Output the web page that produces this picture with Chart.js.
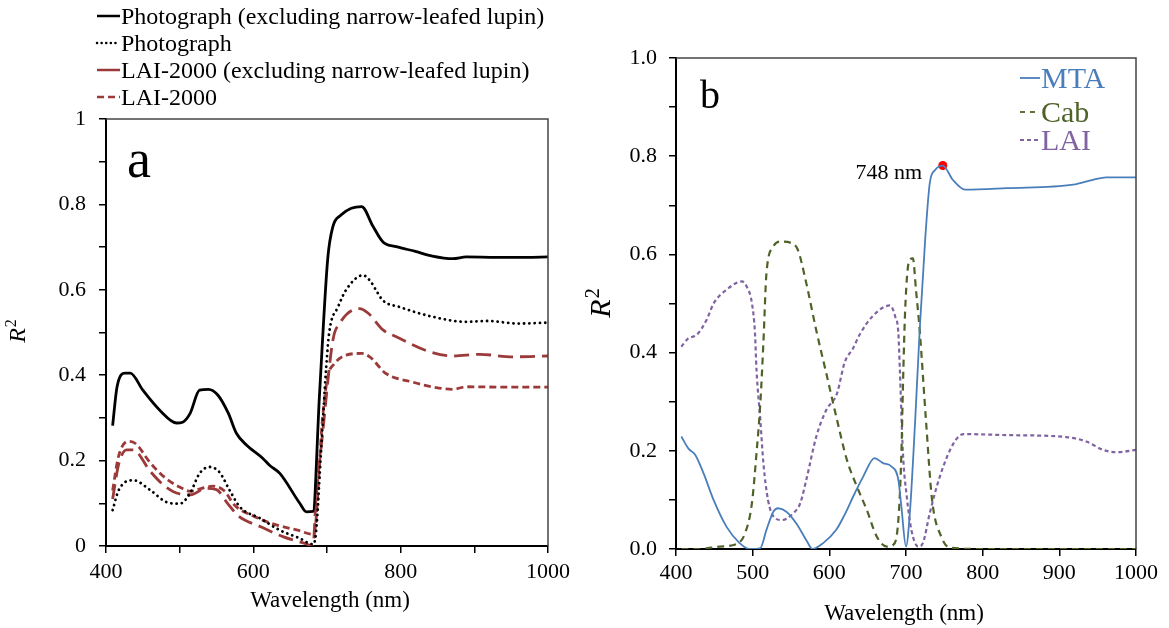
<!DOCTYPE html>
<html><head><meta charset="utf-8">
<script src="https://cdn.jsdelivr.net/npm/chart.js@4.4.1/dist/chart.umd.min.js"></script>
<style>
html,body{margin:0;padding:0;background:#fff;overflow:hidden}
#wrap{position:relative;width:1169px;height:628px;background:#fff}
canvas{position:absolute;top:0}
#ca{left:0}
#cb{left:580px}
</style></head><body>
<div id="wrap"><canvas id="ca" width="580" height="628"></canvas><canvas id="cb" width="589" height="628"></canvas></div>
<script>
// ---------- Panel a data ----------
const photoExclNm = [409,415,426,433,450,473,496,504,514,527,539,552,566,577,591,613,622,636,663,672,681,690,701,708,719,733,747,762,776,794,820,843,871,889,930,970,1000];
const photoExclR2 = [.282,.373,.405,.405,.365,.318,.288,.29,.31,.365,.367,.353,.311,.264,.236,.205,.189,.17,.10,.08,.081,.36,.673,.748,.775,.791,.795,.75,.712,.701,.69,.679,.673,.677,.676,.676,.677];

const photoNm = [409,417,437,460,482,500,514,527,541,554,568,582,609,636,663,681,685,692,699,703,715,726,749,758,776,798,843,889,916,961,1000];
const photoR2 = [.084,.13,.154,.131,.103,.099,.123,.17,.185,.173,.13,.091,.065,.037,.018,.004,.03,.224,.42,.5,.56,.6,.634,.622,.575,.56,.537,.525,.527,.521,.523];

const laiExclNm = [409,417,428,437,460,480,500,515,535,550,565,580,610,640,670,681,685,694,708,717,744,756,776,794,839,871,907,952,1000];
const laiExclR2 = [.11,.19,.225,.225,.175,.14,.122,.12,.135,.132,.10,.07,.045,.022,.006,.0,.107,.263,.482,.521,.556,.545,.506,.49,.455,.445,.449,.443,.445];

const laiNm = [409,417,430,440,460,480,500,515,530,545,560,575,600,630,660,682,694,701,710,726,747,758,780,816,848,871,889,940,1000];
const laiR2 = [.13,.21,.245,.24,.195,.16,.138,.128,.135,.14,.13,.095,.07,.05,.037,.027,.30,.396,.427,.447,.451,.443,.404,.384,.371,.367,.373,.372,.372];

const seriesNamesA = ['Photograph (excluding narrow-leafed lupin)','Photograph','LAI-2000 (excluding narrow-leafed lupin)','LAI-2000'];
const xTicksLabeledA = [400,600,800,1000];
const yTickLabelsA = ['0','0.2','0.4','0.6','0.8','1'];

// ---------- Panel b data ----------
const mtaNm = [407,416,425,436,449,466,483,496,510,518,527,533,544,557,570,578,592,609,620,633,644,659,670,681,690,694,700,705,712,718,725,731,738,748,761,777,831,918,944,961,1000];
const mtaR2 = [.229,.205,.192,.154,.10,.045,.012,0,.002,.039,.076,.083,.076,.052,.018,0,.012,.039,.07,.113,.147,.185,.175,.168,.141,.086,.005,.073,.263,.45,.63,.745,.772,.781,.752,.732,.735,.742,.752,.757,.757];

const cabNm = [407,430,457,479,490,499,505,510,514,518,527,536,549,559,570,583,596,610,623,636,649,662,675,683,690,694,696,699,704,709,713,718,726,734,746,757,800,900,1000];
const cabR2 = [0,0,.005,.01,.032,.093,.195,.297,.42,.562,.616,.626,.624,.609,.541,.445,.358,.263,.181,.127,.079,.025,.005,.008,.059,.195,.331,.49,.586,.592,.528,.443,.263,.1,.025,.003,0,0,0];

const laiBNm = [407,416,427,440,449,466,486,492,499,503,505,510,514,520,529,538,553,562,570,583,596,610,620,631,640,657,679,686,690,692,696,701,707,716,722,731,744,762,775,831,909,935,957,974,1000];
const laiBR2 = [.412,.429,.436,.467,.5,.528,.545,.535,.501,.44,.365,.263,.175,.1,.063,.059,.073,.093,.141,.229,.283,.317,.38,.409,.438,.475,.496,.473,.44,.365,.195,.107,.039,.005,.012,.073,.147,.215,.234,.232,.228,.219,.202,.197,.202];

const peakNm = [748];
const peakR2 = [0.781];
const peakLabel = '748 nm';

const seriesNamesB = ['MTA','Cab','LAI'];
const yTickLabelsB = ['0.0','0.2','0.4','0.6','0.8','1.0'];

const xTitle = 'Wavelength (nm)';

// ---------- helpers ----------
const SERIF = "'Liberation Serif','Times New Roman',serif";
const pts = (xs, ys) => xs.map((x, i) => ({x: x, y: ys[i]}));
const RED = '#9c3a3a';

function drawR2(ctx, cx, cy, fs) {
  ctx.save();
  ctx.translate(cx, cy);
  ctx.rotate(-Math.PI / 2);
  ctx.fillStyle = '#000';
  ctx.textBaseline = 'alphabetic';
  ctx.textAlign = 'left';
  ctx.font = 'italic ' + fs + 'px ' + SERIF;
  const wR = ctx.measureText('R').width;
  ctx.font = Math.round(fs * 0.65) + 'px ' + SERIF;
  const w2 = ctx.measureText('2').width;
  const x0 = -(wR + w2 + 1) / 2;
  ctx.font = 'italic ' + fs + 'px ' + SERIF;
  ctx.fillText('R', x0, fs * 0.33);
  ctx.font = Math.round(fs * 0.65) + 'px ' + SERIF;
  ctx.fillText('2', x0 + wR + 1, fs * 0.33 - fs * 0.36);
  ctx.restore();
}

function frame(ctx, a) {
  ctx.save();
  ctx.strokeStyle = '#444';
  ctx.lineWidth = 1.5;
  ctx.beginPath();
  ctx.moveTo(a.left, a.top);
  ctx.lineTo(a.right, a.top);
  ctx.lineTo(a.right, a.bottom);
  ctx.stroke();
  ctx.restore();
}

function sample(ctx, x1, x2, y, color, dash, width, cap) {
  ctx.save();
  ctx.strokeStyle = color;
  ctx.lineWidth = width;
  ctx.lineCap = cap || 'butt';
  ctx.setLineDash(dash);
  ctx.beginPath();
  ctx.moveTo(x1, y);
  ctx.lineTo(x2, y);
  ctx.stroke();
  ctx.restore();
}

const decoA = {
  id: 'decoA',
  afterDraw(chart) {
    const ctx = chart.ctx, a = chart.chartArea;
    frame(ctx, a);
    ctx.save();
    ctx.fillStyle = '#000';
    ctx.textAlign = 'left';
    ctx.textBaseline = 'alphabetic';
    ctx.font = '54px ' + SERIF;
    ctx.fillText('a', 127, 177);
    ctx.font = '23px ' + SERIF;
    ctx.textAlign = 'center';
    ctx.fillText(xTitle, 330, 607);
    ctx.textAlign = 'left';
    // legend
    const base = [24, 51, 78, 105];
    chart.data.datasets.forEach((ds, i) => {
      const y = base[i] - 8;
      sample(ctx, 97, 120, y, ds.borderColor, ds.legendDash, 2.5, ds.legendCap);
      ctx.fillStyle = '#000';
      ctx.font = '24px ' + SERIF;
      ctx.fillText(ds.label, 121, base[i]);
    });
    ctx.restore();
    drawR2(ctx, 17, 331, 24);
  }
};

const decoB = {
  id: 'decoB',
  afterDraw(chart) {
    const ctx = chart.ctx, a = chart.chartArea;
    frame(ctx, a);
    ctx.save();
    ctx.fillStyle = '#000';
    ctx.textBaseline = 'alphabetic';
    ctx.textAlign = 'left';
    ctx.font = '40px ' + SERIF;
    ctx.fillText('b', 120, 108);
    ctx.font = '22px ' + SERIF;
    ctx.textAlign = 'right';
    ctx.fillText(peakLabel, 342, 179);
    ctx.font = '23px ' + SERIF;
    ctx.textAlign = 'center';
    ctx.fillText(xTitle, 324, 620);
    ctx.textAlign = 'left';
    const base = [88, 122, 150];
    for (let i = 0; i < 3; i++) {
      const ds = chart.data.datasets[i];
      const y = base[i] - 10;
      sample(ctx, 440, 460, y, ds.borderColor, ds.legendDash, 1.8, 'butt');
      ctx.fillStyle = ds.borderColor;
      ctx.font = '30px ' + SERIF;
      ctx.fillText(ds.label, 461, base[i]);
    }
    ctx.restore();
    drawR2(ctx, 20, 303, 30);
  }
};

function axisCommon() {
  return {
    grid: {drawOnChartArea: false, drawTicks: true, tickLength: 7, color: '#000', lineWidth: 1.5},
    border: {display: true, color: '#000', width: 2},
  };
}

// ---------- Chart a ----------
new Chart(document.getElementById('ca'), {
  type: 'line',
  data: {
    datasets: [
      {label: seriesNamesA[0], data: pts(photoExclNm, photoExclR2), borderColor: '#000', borderWidth: 2.8, legendDash: []},
      {label: seriesNamesA[1], data: pts(photoNm, photoR2), borderColor: '#000', borderWidth: 2.8, borderDash: [0.1, 5.2], borderCapStyle: 'round', legendDash: [0.1, 4.5], legendCap: 'round'},
      {label: seriesNamesA[2], data: pts(laiExclNm, laiExclR2), borderColor: RED, borderWidth: 2.8, borderDash: [15, 7], legendDash: []},
      {label: seriesNamesA[3], data: pts(laiNm, laiR2), borderColor: RED, borderWidth: 2.8, borderDash: [7, 4], legendDash: [7, 4]}
    ]
  },
  options: {
    responsive: false,
    animation: false,
    devicePixelRatio: 1,
    elements: {point: {radius: 0}, line: {cubicInterpolationMode: 'monotone', fill: false}},
    layout: {padding: {top: 119, right: 32, left: 0, bottom: 0}},
    plugins: {legend: {display: false}, tooltip: {enabled: false}},
    scales: {
      x: Object.assign(axisCommon(), {
        type: 'linear', min: 400, max: 1000,
        afterFit(s) { s.height = 82; },
        ticks: {stepSize: 100, autoSkip: false, maxRotation: 0, padding: 6, color: '#000', font: {family: SERIF, size: 22},
          callback: (v) => xTicksLabeledA.includes(v) ? String(v) : ''}
      }),
      y: Object.assign(axisCommon(), {
        min: 0, max: 1,
        afterFit(s) { s.width = 106; },
        ticks: {stepSize: 0.1, autoSkip: false, padding: 13, color: '#000', font: {family: SERIF, size: 22},
          callback: (v, i) => (i % 2 === 0) ? yTickLabelsA[i / 2] : ''}
      })
    }
  },
  plugins: [decoA]
});

// ---------- Chart b ----------
new Chart(document.getElementById('cb'), {
  type: 'line',
  data: {
    datasets: [
      {label: seriesNamesB[0], data: pts(mtaNm, mtaR2), borderColor: '#4a7ebb', borderWidth: 1.8, legendDash: []},
      {label: seriesNamesB[1], data: pts(cabNm, cabR2), borderColor: '#4f6228', borderWidth: 2.2, borderDash: [7, 5], legendDash: [5, 5]},
      {label: seriesNamesB[2], data: pts(laiBNm, laiBR2), borderColor: '#8064a2', borderWidth: 2.2, borderDash: [4, 3], legendDash: [4, 3]},
      {label: 'peak', data: pts(peakNm, peakR2), borderColor: '#ff0000', backgroundColor: '#ff0000', showLine: false, pointRadius: 4.5, pointBorderWidth: 0}
    ]
  },
  options: {
    responsive: false,
    animation: false,
    devicePixelRatio: 1,
    elements: {point: {radius: 0}, line: {cubicInterpolationMode: 'monotone', fill: false}},
    layout: {padding: {top: 58, right: 33, left: 0, bottom: 0}},
    plugins: {legend: {display: false}, tooltip: {enabled: false}},
    scales: {
      x: Object.assign(axisCommon(), {
        type: 'linear', min: 400, max: 1000,
        afterFit(s) { s.height = 79; },
        ticks: {stepSize: 100, autoSkip: false, maxRotation: 0, padding: 4, color: '#000', font: {family: SERIF, size: 22},
          callback: (v) => String(v)}
      }),
      y: Object.assign(axisCommon(), {
        min: 0, max: 1,
        afterFit(s) { s.width = 96; },
        ticks: {stepSize: 0.1, autoSkip: false, padding: 12, color: '#000', font: {family: SERIF, size: 22},
          callback: (v, i) => (i % 2 === 0) ? yTickLabelsB[i / 2] : ''}
      })
    }
  },
  plugins: [decoB]
});
</script>
</body></html>
